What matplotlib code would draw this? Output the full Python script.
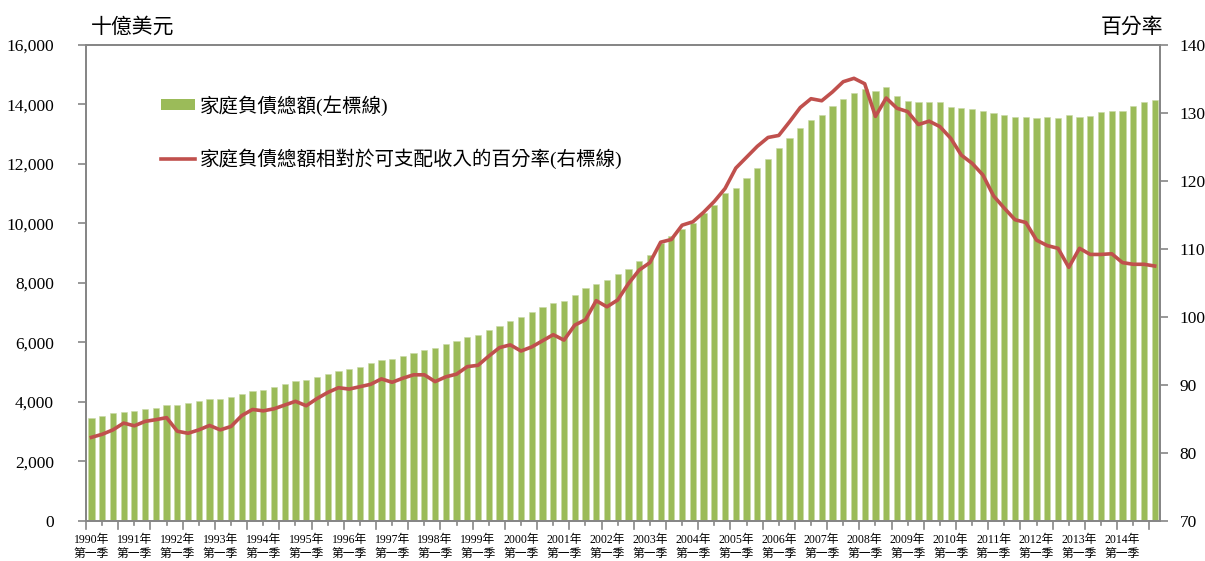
import matplotlib
matplotlib.use("Agg")
import matplotlib.pyplot as plt
import numpy as np
from matplotlib.patches import Patch
from matplotlib.lines import Line2D

plt.rcParams['font.family'] = ['Liberation Serif', 'Noto Sans CJK TC']

# quarterly, 1990 Q1 .. 2014 Q4
years = list(range(1990, 2015))

# household debt, billions of USD (left axis)
debt = [3470, 3540, 3620, 3675, 3690, 3765, 3810, 3890, 3900, 3955,
        4020, 4100, 4100, 4170, 4280, 4370, 4400, 4490, 4590, 4705,
        4740, 4830, 4940, 5040, 5110, 5190, 5300, 5400, 5445, 5545,
        5645, 5745, 5800, 5940, 6050, 6185, 6260, 6410, 6565, 6730,
        6865, 7015, 7190, 7335, 7385, 7585, 7830, 7965, 8090, 8290,
        8480, 8750, 8940, 9330, 9580, 9815, 10005, 10340, 10620, 11015,
        11205, 11530, 11875, 12170, 12525, 12875, 13210, 13465, 13655, 13950,
        14195, 14395, 14520, 14460, 14590, 14285, 14115, 14085, 14085, 14070,
        13925, 13870, 13835, 13780, 13725, 13645, 13570, 13570, 13555, 13580,
        13555, 13645, 13590, 13610, 13735, 13790, 13780, 13950, 14070, 14160]

# debt as % of disposable income (right axis)
ratio = [82.3, 82.75, 83.4, 84.4, 84.0, 84.65, 84.9, 85.2, 83.2, 82.9,
         83.4, 84.05, 83.4, 83.9, 85.5, 86.4, 86.2, 86.5, 87.05, 87.6,
         86.95, 88.0, 88.9, 89.6, 89.4, 89.75, 90.1, 90.9, 90.4, 91.0,
         91.5, 91.5, 90.5, 91.2, 91.6, 92.7, 92.9, 94.25, 95.5, 95.9,
         95.0, 95.6, 96.5, 97.4, 96.6, 98.8, 99.6, 102.4, 101.5, 102.5,
         104.9, 106.9, 108.0, 111.0, 111.4, 113.5, 114.0, 115.4, 117.0, 118.9,
         121.9, 123.5, 125.1, 126.4, 126.7, 128.7, 130.8, 132.1, 131.8, 133.1,
         134.6, 135.1, 134.3, 129.5, 132.2, 130.7, 130.2, 128.3, 128.8, 128.0,
         126.3, 123.8, 122.6, 120.9, 117.8, 116.0, 114.3, 113.9, 111.3, 110.5,
         110.1, 107.3, 110.1, 109.2, 109.2, 109.3, 108.0, 107.75, 107.75, 107.5]

x_labels = [f"{y}年\n第一季" for y in years]

green = '#9BBB59'
red = '#C0504D'
grey = '#868686'

fig = plt.figure(figsize=(12.05, 5.61), dpi=100)
ax = fig.add_axes([0.0714, 0.0713, 0.8913, 0.8485])
ax2 = ax.twinx()

x = np.arange(len(debt))
ax.bar(x, debt, width=0.58, color=green, edgecolor='#C9DAA6', linewidth=0.4)
ax2.plot(x, ratio, color=red, linewidth=2.6, solid_joinstyle='round')

ax.set_xlim(-0.5, len(debt) - 0.5)
ax.set_ylim(0, 16000)
ax2.set_ylim(70, 140)
ax.set_yticks(np.arange(0, 16001, 2000))
ax.set_yticklabels([f"{v:,}" for v in range(0, 16001, 2000)])
ax2.set_yticks(np.arange(70, 141, 10))

# year labels on every first quarter
ax.set_xticks(np.arange(0, len(debt), 4))
ax.set_xticklabels(x_labels, fontsize=8.5, linespacing=1.25)
ax.tick_params(axis='x', which='major', length=0, pad=9)
# tick marks every 1.5 quarters, long ones on the 3-quarter boundaries
for pos in np.arange(-0.5, len(debt), 1.5):
    long = (round((pos + 0.5) / 1.5) % 2 == 0)
    ax.plot([pos, pos], [0, -0.016 if long else -0.008], transform=ax.get_xaxis_transform(),
            color=grey, linewidth=1.2, clip_on=False)

ax.tick_params(axis='y', length=6, width=1.2, color=grey, labelsize=12.5, pad=17)
ax2.tick_params(axis='y', length=6, width=1.2, color=grey, labelsize=12.5, pad=8)

for a in (ax, ax2):
    for s in a.spines.values():
        s.set_color(grey)
        s.set_linewidth(1.3)

fig.text(0.0755, 0.95, "十億美元", fontsize=15, ha='left', va='center')
fig.text(0.9655, 0.95, "百分率", fontsize=15, ha='right', va='center')

handles = [Patch(facecolor=green, edgecolor='none'),
           Line2D([0], [0], color=red, linewidth=2.6)]
labels = ["家庭負債總額(左標線)", "家庭負債總額相對於可支配收入的百分率(右標線)"]
ax2.legend(handles, labels, loc='upper left', bbox_to_anchor=(0.07, 0.895),
           frameon=False, fontsize=14, handlelength=1.75, handleheight=0.5,
           handletextpad=0.25, labelspacing=1.72, borderpad=0, borderaxespad=0)

fig.savefig("out.png", dpi=100)
